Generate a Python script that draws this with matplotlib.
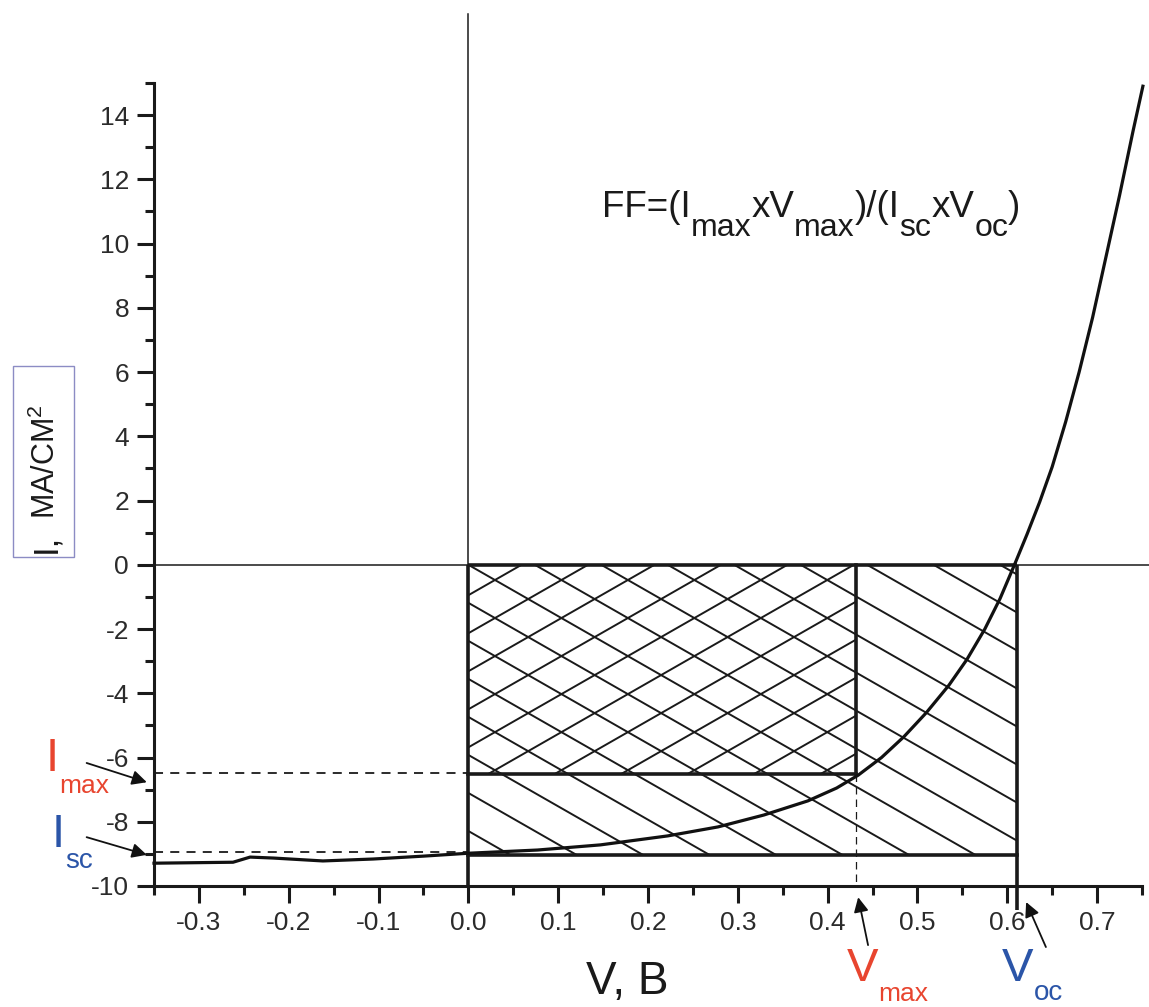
import numpy as np
import matplotlib
matplotlib.use("Agg")
import matplotlib.pyplot as plt
from matplotlib import ticker as mplticker
from matplotlib.patches import Rectangle

plt.rcParams['font.family'] = ['Liberation Sans', 'DejaVu Sans']
plt.rcParams['mathtext.fontset'] = 'custom'
plt.rcParams['mathtext.rm'] = 'Liberation Sans'
plt.rcParams['mathtext.it'] = 'Liberation Sans:italic'
plt.rcParams['axes.unicode_minus'] = False

# I-V curve (V in volts, I in mA/cm2)
volt = [-0.35, -0.262, -0.243, -0.217, -0.162, -0.106, -0.05, 0.0, 0.077, 0.147,
        0.222, 0.278, 0.329, 0.378, 0.41, 0.434, 0.46, 0.485, 0.51, 0.535, 0.555,
        0.575, 0.592, 0.608, 0.622, 0.636, 0.65, 0.665, 0.68, 0.695, 0.71, 0.725,
        0.74, 0.751]
curr = [-9.29, -9.26, -9.10, -9.13, -9.22, -9.16, -9.07, -8.98, -8.88, -8.72,
        -8.44, -8.16, -7.79, -7.35, -6.95, -6.55, -6.0, -5.35, -4.6, -3.75, -2.95,
        -2.0, -1.05, 0.0, 0.95, 1.95, 3.05, 4.45, 6.0, 7.7, 9.6, 11.5,
        13.5, 14.9]

V_MAX = 0.432
I_MAX = -6.52
V_OC = 0.611
I_SC = -8.93
I_SC_BOX = -9.05

XMIN, XMAX = -0.35, 0.75
YMIN, YMAX = -10, 15

RED = '#e8452f'
BLUE = '#2b55a8'
INK = '#1a1a1a'
W, H = 1149, 1007

fig = plt.figure(figsize=(W / 100, H / 100), dpi=100)
ax = fig.add_axes([154 / W, 1 - 886 / H, (1142 - 154) / W, (886 - 83) / H])
ax.set_xlim(XMIN, XMAX)
ax.set_ylim(YMIN, YMAX)

for s in ['top', 'right']:
  ax.spines[s].set_visible(False)
for s in ['left', 'bottom']:
  ax.spines[s].set_linewidth(2.2)
  ax.spines[s].set_color(INK)

ax.xaxis.set_major_locator(mplticker.MultipleLocator(0.1))
ax.xaxis.set_minor_locator(mplticker.MultipleLocator(0.05))
ax.yaxis.set_major_locator(mplticker.MultipleLocator(2))
ax.yaxis.set_minor_locator(mplticker.MultipleLocator(1))
ax.xaxis.set_major_formatter(mplticker.FuncFormatter(lambda v, _: '%.1f' % v))
ax.yaxis.set_major_formatter(mplticker.FuncFormatter(lambda v, _: '%d' % round(v)))
ax.tick_params(which='major', direction='out', length=12, width=2.2, labelsize=19,
               pad=6, color=INK, labelcolor='#2b2b2b')
ax.tick_params(which='minor', direction='out', length=6.5, width=2.2, color=INK)

# thin coordinate lines through the origin
ax.plot([XMIN, 0.758], [0, 0], color=INK, lw=1.1, clip_on=False, zorder=2)
ax.plot([0, 0], [YMIN, 17.15], color=INK, lw=1.1, clip_on=False, zorder=2)

# hatching: "\" across the whole Isc x Voc box, "/" only in the Imax x Vmax box
S = 16.0    # hatch slope (mA per V)
D = 0.074   # hatch spacing (V)
big = Rectangle((0, I_SC_BOX), V_OC, -I_SC_BOX, fill=False, lw=0, transform=ax.transData)
small = Rectangle((0, I_MAX), V_MAX, -I_MAX, fill=False, lw=0, transform=ax.transData)
ax.add_patch(big)
ax.add_patch(small)
ys = np.array([2.0, -12.0])
for k in range(-12, 14):
  ln, = ax.plot(k * D - ys / S, ys, color=INK, lw=1.4, zorder=3)
  ln.set_clip_path(big)
  ln2, = ax.plot(k * D + 0.8 * D + ys / S, ys, color=INK, lw=1.4, zorder=3)
  ln2.set_clip_path(small)

# box outlines
lwb = 2.6
ax.plot([0, V_OC], [0, 0], color=INK, lw=lwb, zorder=4, solid_capstyle='butt')
ax.plot([0, 0], [0, YMIN], color=INK, lw=lwb, zorder=4, solid_capstyle='butt')
ax.plot([0, V_OC], [I_SC_BOX, I_SC_BOX], color=INK, lw=lwb, zorder=4)
ax.plot([V_OC, V_OC], [0, -10.75], color=INK, lw=lwb, zorder=4, clip_on=False,
        solid_capstyle='butt')
ax.plot([0, V_MAX], [I_MAX, I_MAX], color=INK, lw=lwb, zorder=4)
ax.plot([V_MAX, V_MAX], [0, I_MAX], color=INK, lw=lwb, zorder=4)

# dashed guides
ax.plot([XMIN, 0], [I_MAX + 0.05, I_MAX + 0.05], color=INK, lw=1.3, ls=(0, (5, 4)), zorder=3)
ax.plot([XMIN, 0], [I_SC, I_SC], color=INK, lw=1.3, ls=(0, (5, 4)), zorder=3)
ax.plot([V_MAX, V_MAX], [I_MAX, YMIN], color=INK, lw=0.9, ls=(0, (6, 4)), zorder=3)

# I-V curve
ax.plot(volt, curr, color='#111111', lw=2.3, zorder=5, clip_on=False)

# arrows to the marked values
arrows = [((-0.358, I_MAX - 0.25), (-0.425, -6.17)),
          ((-0.358, I_SC - 0.1), (-0.425, -8.48)),
          ((V_MAX + 0.002, -10.35), (V_MAX + 0.013, -11.84)),
          ((V_OC + 0.01, -10.5), (V_OC + 0.032, -11.9))]
for tip, tail in arrows:
  ax.annotate('', xy=tip, xytext=tail, annotation_clip=False,
              arrowprops=dict(arrowstyle='-|>', color='#111111', lw=1.3,
                              mutation_scale=22, shrinkA=0, shrinkB=0))


def chain_text(x_px, y_px, pieces, size, sub_size, drop, color):
  # pieces: list of (text, is_subscript); baseline at (x_px, y_px) from top-left
  prev = fig.text(x_px / W, 1 - y_px / H, pieces[0][0], fontsize=size,
                  va='baseline', color=color)
  prev_sub = pieces[0][1]
  for txt, sub in pieces[1:]:
    dy = (prev_sub - sub) * drop
    prev = ax.annotate(txt, xy=(1, 0), xycoords=prev, xytext=(0, dy),
                       textcoords='offset points', va='bottom', ha='left',
                       fontsize=sub_size if sub else size, color=color,
                       annotation_clip=False)
    prev_sub = sub


# coloured labels
chain_text(46, 771, [('I', 0), ('max', 1)], 34, 19, 12, RED)
chain_text(52, 847, [('I', 0), ('sc', 1)], 34, 20, 12, BLUE)
chain_text(847, 981, [('V', 0), ('max', 1)], 34, 19, 11, RED)
chain_text(1002, 981, [('V', 0), ('oc', 1)], 34, 20, 11, BLUE)

# FF formula
chain_text(602, 217, [('FF=(I', 0), ('max', 1), ('xV', 0), ('max', 1), (')/(I', 0),
                      ('sc', 1), ('xV', 0), ('oc', 1), (')', 0)], 26.5, 23, 13, INK)

# axis titles
fig.text(627 / W, 1 - 994 / H, 'V, В', fontsize=33, ha='center', va='baseline', color=INK)
fig.text(55 / W, 1 - 553 / H, 'I,', fontsize=25, rotation=90, rotation_mode='anchor',
         ha='left', va='baseline', color=INK)
fig.text(55 / W, 1 - 519 / H, 'МА/СМ$^2$', fontsize=22, rotation=90, rotation_mode='anchor',
         ha='left', va='baseline', color=INK)
fig.add_artist(Rectangle((13 / W, 1 - 557 / H), 61 / W, 191 / H, fill=False,
                         edgecolor='#8c8cc4', lw=1, transform=fig.transFigure))

fig.savefig('out.png', dpi=100)
